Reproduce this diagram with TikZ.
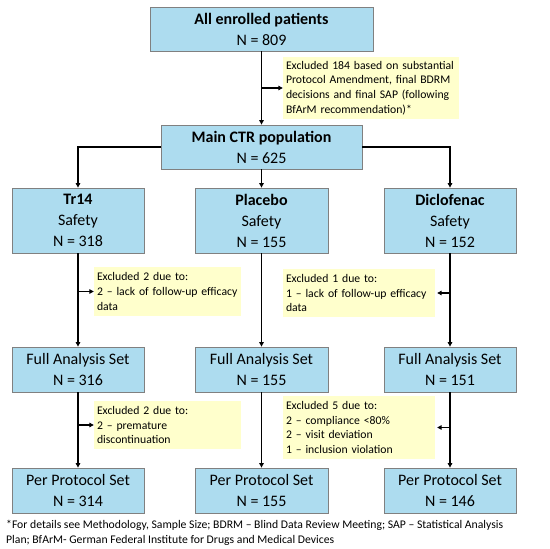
\documentclass[tikz,border=0pt]{standalone}
\usepackage{fontspec}
\setmainfont{Carlito}
\usetikzlibrary{arrows.meta}
\definecolor{boxblue}{RGB}{173,220,239}
\definecolor{boxedge}{RGB}{128,128,128}
\definecolor{noteyellow}{RGB}{255,255,204}
\begin{document}
\begin{tikzpicture}[x=1pt,y=-1pt,
 bx/.style={draw=boxedge, line width=0.8pt, fill=boxblue, align=center, inner sep=0pt, font=\fontsize{16}{21}\selectfont},
 note/.style={fill=noteyellow, align=left, inner xsep=3pt, inner ysep=0pt, font=\fontsize{11.7}{14.7}\selectfont},
 arr/.style={line width=1.1pt, -{Triangle[length=4.5pt,width=4.5pt]}},
 ln/.style={line width=1.1pt}]
\useasboundingbox (0,0) rectangle (550,549);
% boxes
\node[bx, minimum width=223pt, minimum height=44pt] (top) at (261.5,29) {\textbf{All enrolled patients}\\N = 809};
\node[bx, minimum width=201pt, minimum height=44pt] (main) at (261.5,147) {\textbf{Main CTR population}\\N = 625};
\node[bx, minimum width=132pt, minimum height=65pt] (tr) at (78,220.5) {\textbf{Tr14}\\Safety\\N = 318};
\node[bx, minimum width=133pt, minimum height=65pt] (pla) at (261.5,220.5) {\textbf{Placebo}\\Safety\\N = 155};
\node[bx, minimum width=132pt, minimum height=65pt] (dic) at (450,220.5) {\textbf{Diclofenac}\\Safety\\N = 152};
\node[bx, minimum width=132pt, minimum height=45pt] (trf) at (78,369.5) {Full Analysis Set\\N = 316};
\node[bx, minimum width=133pt, minimum height=45pt] (plaf) at (261.5,369.5) {Full Analysis Set\\N = 155};
\node[bx, minimum width=132pt, minimum height=45pt] (dicf) at (450,369.5) {Full Analysis Set\\N = 151};
\node[bx, minimum width=132pt, minimum height=45pt] (trp) at (78,490.5) {Per Protocol Set\\N = 314};
\node[bx, minimum width=133pt, minimum height=45pt] (plap) at (261.5,490.5) {Per Protocol Set\\N = 155};
\node[bx, minimum width=132pt, minimum height=45pt] (dicp) at (450,490.5) {Per Protocol Set\\N = 146};
% notes
\node[note, text width=170pt, minimum height=62pt] (n0) at (371,88) {Excluded 184 based on substantial\\Protocol Amendment, final BDRM\\decisions and final SAP (following\\BfArM recommendation)*};
\node[note, text width=141pt, minimum height=49pt] (n1) at (167.5,291.5) {Excluded 2 due to:\\2 -- lack of follow-up efficacy\\data};
\node[note, text width=146pt, minimum height=48pt] (n2) at (359,293) {Excluded 1 due to:\\1 -- lack of follow-up efficacy\\data};
\node[note, text width=141pt, minimum height=48pt] (n3) at (167.5,425) {Excluded 2 due to:\\2 -- premature\\discontinuation};
\node[note, text width=146pt, minimum height=63pt] (n4) at (359,427.5) {Excluded 5 due to:\\2 -- compliance <80\%\\2 -- visit deviation\\1 -- inclusion violation};
% connectors
\draw[arr] (top.south) -- (main.north);
\draw[arr] (top.south |- n0.west) -- (n0.west);
\draw[arr] (main.west) -| (tr.north);
\draw[arr] (main.south) -- (pla.north);
\draw[arr] (main.east) -| (dic.north);
\draw[arr] (tr.south) -- (trf.north);
\draw[arr] (pla.south) -- (plaf.north);
\draw[arr] (dic.south) -- (dicf.north);
\draw[arr] (tr.south |- n1.west) -- (n1.west);
\draw[arr] (dic.south |- n2.east) -- ([xshift=2pt]n2.east);
\draw[arr] (trf.south) -- (trp.north);
\draw[arr] (plaf.south) -- (plap.north);
\draw[arr] (dicf.south) -- (dicp.north);
\draw[arr] (trf.south |- n3.west) -- (n3.west);
\draw[arr] (dicf.south |- n4.east) -- ([xshift=2pt]n4.east);
% footnote
\node[anchor=north west, inner sep=0pt, align=left, font=\fontsize{11.7}{14.5}\selectfont] (foot) at (6,520) {*For details see Methodology, Sample Size; BDRM -- Blind Data Review Meeting; SAP -- Statistical Analysis\\Plan; BfArM- German Federal Institute for Drugs and Medical Devices};
\end{tikzpicture}
\end{document}
